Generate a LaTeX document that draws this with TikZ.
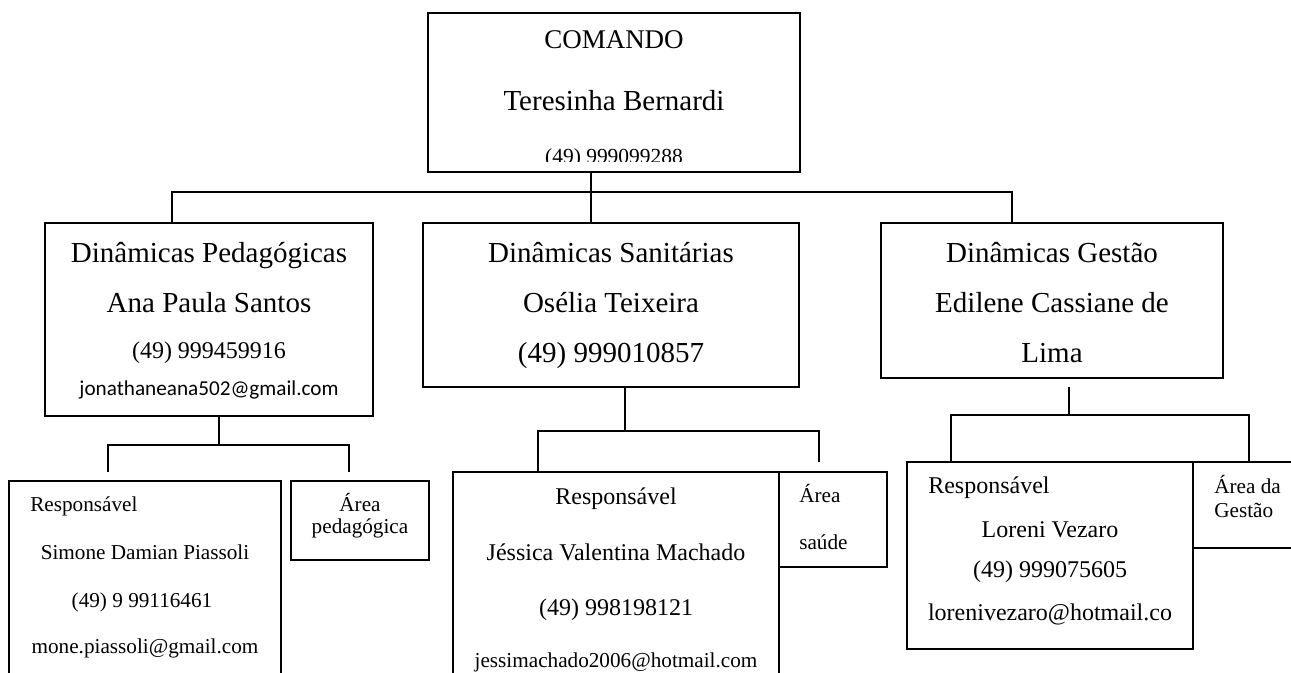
\documentclass[tikz,border=0pt]{standalone}
\usepackage{fontspec}
\setmainfont{Liberation Serif}
\newfontfamily\calibri{Carlito}
\usetikzlibrary{positioning}

% font sizes (1px = 0.75pt)
\newcommand\pxu{0.75pt}
\newcommand\szA{\fontsize{21.75pt}{24pt}\selectfont}
\newcommand\szB{\fontsize{20.25pt}{22pt}\selectfont}
\newcommand\szC{\fontsize{18pt}{20pt}\selectfont}
\newcommand\szD{\fontsize{16.1pt}{18pt}\selectfont}
\newcommand\szE{\fontsize{15.9pt}{18pt}\selectfont}

\begin{document}
\begin{tikzpicture}[
    x=0.75pt,y=-0.75pt,
    box/.style={draw,line width=1.4pt,inner sep=0pt},
    txt/.style={anchor=base,inner sep=0pt},
    txtl/.style={anchor=base west,inner sep=0pt},
    link/.style={line width=1.4pt}
  ]
    \useasboundingbox (0,0) rectangle (1291,672);
    \clip (0,0) rectangle (1291,672);

    % Top box: COMANDO
    \node[box,minimum width=372*\pxu,minimum height=159*\pxu] (cmd) at (614,92.5) {};
    \node[txt,font=\szB] (cmdt) at (614,48) {COMANDO};
    \node[txt,font=\szA] (cmdn) at (614,110) {Teresinha Bernardi};
    \begin{scope}
      \clip (430,140) rectangle (798,161);
      \node[txt,font=\szD] (cmdp) at (614,163) {(49) 999099288};
    \end{scope}

    % Middle level boxes
    \node[box,minimum width=328*\pxu,minimum height=193*\pxu] (dped) at (209,319.5) {};
    \node[txt,font=\szA] at (209,262) {Dinâmicas Pedagógicas};
    \node[txt,font=\szA] at (209,312) {Ana Paula Santos};
    \node[txt,font=\szC] at (209,358) {(49) 999459916};
    \node[txt,font=\calibri\szE] at (209,395) {jonathaneana502@gmail.com};

    \node[box,minimum width=376*\pxu,minimum height=164*\pxu] (dsan) at (611,305) {};
    \node[txt,font=\szA] at (611,262) {Dinâmicas Sanitárias};
    \node[txt,font=\szA] at (611,312) {Osélia Teixeira};
    \node[txt,font=\szA] at (611,362) {(49) 999010857};

    \node[box,minimum width=342*\pxu,minimum height=155*\pxu] (dges) at (1052,300.5) {};
    \node[txt,font=\szA] at (1052,262) {Dinâmicas Gestão};
    \node[txt,font=\szA] at (1052,312) {Edilene Cassiane de};
    \node[txt,font=\szA] at (1052,362) {Lima};

    % Bottom boxes: pedagogica
    \node[box,minimum width=272*\pxu,minimum height=239*\pxu] (rped) at (145,600.5) {};
    \node[txtl,font=\szE] at (30,511) {Responsável};
    \node[txt,font=\szE] at (145,559) {Simone Damian Piassoli};
    \node[txt,font=\szE] at (142,607) {(49) 9 99116461};
    \node[txt,font=\szE] at (145,653) {mone.piassoli@gmail.com};
    \node[box,minimum width=138*\pxu,minimum height=79*\pxu] (aped) at (360,520.5) {};
    \node[txt,font=\szE] at (360,511) {Área};
    \node[txt,font=\szE] at (360,533) {pedagógica};

    % Bottom boxes: sanitarias
    \node[box,minimum width=326*\pxu,minimum height=248*\pxu] (rsan) at (616,596) {};
    \node[txt,font=\szC] at (616,504) {Responsável};
    \node[txt,font=\szC] at (616,560) {Jéssica Valentina Machado};
    \node[txt,font=\szC] at (616,615) {(49) 998198121};
    \node[txt,font=\szE] at (616,667) {jessimachado2006@hotmail.com};
    \node[box,minimum width=108*\pxu,minimum height=95*\pxu] (asan) at (833,519.5) {};
    \node[txtl,font=\szE] at (799,502) {Área};
    \node[txtl,font=\szE] at (799,549) {saúde};

    % Bottom boxes: gestao
    \node[box,minimum width=286*\pxu,minimum height=187*\pxu] (rges) at (1050,555.5) {};
    \node[txtl,font=\szC] at (928,493) {Responsável};
    \node[txt,font=\szC] at (1050,537) {Loreni Vezaro};
    \node[txt,font=\szC] at (1050,577) {(49) 999075605};
    \node[txt,font=\szC] at (1050,620) {lorenivezaro@hotmail.co};
    \node[box,minimum width=127*\pxu,minimum height=86*\pxu] (ages) at (1256.5,505) {};
    \node[txtl,font=\szE] at (1214,493) {Área da};
    \node[txtl,font=\szE] at (1214,517) {Gestão};

    % bus points
    \coordinate (b1) at (591,192);
    \coordinate (b1l) at (172,192);
    \coordinate (b1r) at (1012,192);
    \coordinate (b2) at (219,445);
    \coordinate (b2l) at (108,445);
    \coordinate (b2r) at (349,445);
    \coordinate (b3) at (625,431);
    \coordinate (b3l) at (538,431);
    \coordinate (b3r) at (819,431);
    \coordinate (b4t) at (1069,387);
    \coordinate (b4) at (1069,415);
    \coordinate (b4l) at (951,415);
    \coordinate (b4r) at (1249,415);

    % connectors
    \draw[link] (cmd.south -| b1) -- (dsan.north -| b1);
    \draw[link] (b1l |- dped.north) -- (b1l) -- (b1r) -- (b1r |- dges.north);
    \draw[link] (dped.south -| b2) -- (b2);
    \draw[link] (b2l |- 0,472) -- (b2l) -- (b2r) -- (b2r |- 0,472);
    \draw[link] (dsan.south -| b3) -- (b3);
    \draw[link] (b3l |- rsan.north) -- (b3l) -- (b3r) -- (b3r |- 0,462);
    \draw[link] (b4t) -- (b4);
    \draw[link] (b4l |- rges.north) -- (b4l) -- (b4r) -- (b4r |- ages.north);
\end{tikzpicture}
\end{document}
